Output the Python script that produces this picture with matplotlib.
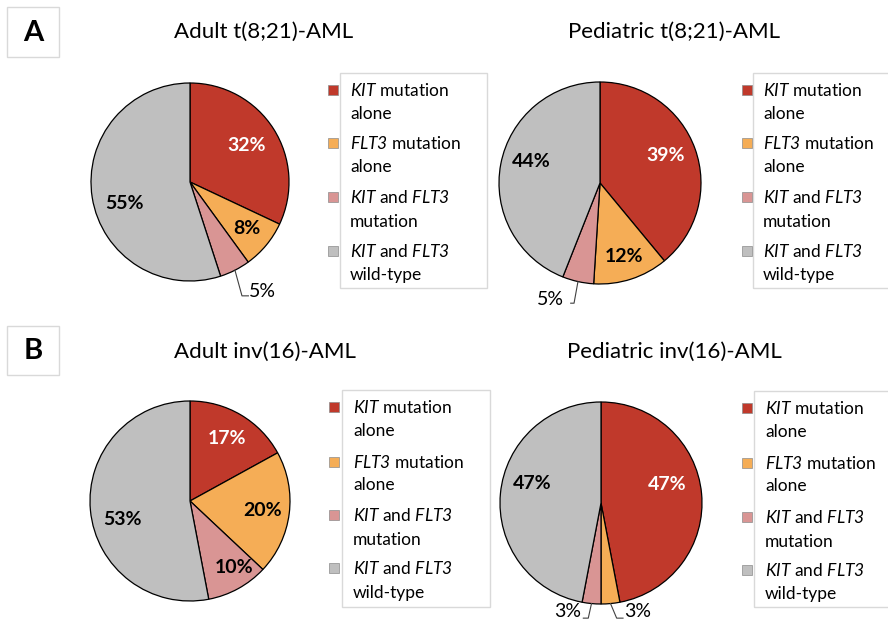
import matplotlib
matplotlib.use('Agg')
import numpy as np
import matplotlib.pyplot as plt
from matplotlib.patches import Rectangle

plt.rcParams['font.family'] = 'Lato'
plt.rcParams['mathtext.fontset'] = 'custom'
# italic for the gene names, digits included
plt.rcParams['mathtext.rm'] = 'Lato:italic'
plt.rcParams['mathtext.it'] = 'Lato:italic'

# data
titles = ["Adult t(8;21)-AML", "Pediatric t(8;21)-AML",
          "Adult inv(16)-AML", "Pediatric inv(16)-AML"]
adult_t821 = [32, 8, 5, 55]
pediatric_t821 = [39, 12, 5, 44]
adult_inv16 = [17, 20, 10, 53]
pediatric_inv16 = [47, 3, 3, 47]
legend_lines = [
    (r"$\mathit{KIT}$ mutation", "alone"),
    (r"$\mathit{FLT3}$ mutation", "alone"),
    (r"$\mathit{KIT}$ and $\mathit{FLT3}$", "mutation"),
    (r"$\mathit{KIT}$ and $\mathit{FLT3}$", "wild-type"),
]
colors = ['#C0392B', '#F5AD56', '#D99594', '#BFBFBF']
text_colors = ['white', 'black', 'black', 'black']

W, H = 888, 623
fig = plt.figure(figsize=(W / 100, H / 100), dpi=100)


def fx(x):
    return x / W


def fy(y):
    return 1 - y / H


def box(x0, y0, x1, y1, ec='#D9D9D9'):
    fig.patches.append(Rectangle((fx(x0), fy(y1)), fx(x1 - x0), (y1 - y0) / H,
                                 transform=fig.transFigure, fill=False,
                                 edgecolor=ec, linewidth=1))


def draw_pie(cx, cy, r, values, title, title_x, title_y, lbl_r, lbl_shift, outside):
    ax = fig.add_axes([fx(cx - r), fy(cy + r), 2 * r / W, 2 * r / H])
    wedges, _ = ax.pie(values, colors=colors, startangle=90, counterclock=False,
                       wedgeprops=dict(edgecolor='black', linewidth=0.9))
    ax.set_xlim(-1, 1)
    ax.set_ylim(-1, 1)
    ax.axis('off')
    for i, (w, v) in enumerate(zip(wedges, values)):
        mid = np.deg2rad((w.theta1 + w.theta2) / 2)
        if i in outside:
            (bx, by), (ex, ey), (tx, ty), ha = outside[i]
            ax.plot([np.cos(mid), bx, ex], [np.sin(mid), by, ey], color='#404040',
                    lw=0.8, clip_on=False)
            ax.text(tx, ty, f"{v}%", ha=ha, va='center', fontsize=14,
                    clip_on=False)
        else:
            a = mid + np.deg2rad(lbl_shift[i])
            ax.text(lbl_r[i] * np.cos(a), lbl_r[i] * np.sin(a), f"{v}%",
                    ha='center', va='center', fontsize=14, fontweight='bold',
                    color=text_colors[i])
    fig.text(fx(title_x), fy(title_y), title, ha='center', va='center',
             fontsize=16)


def draw_legend(box_x0, box_x1, box_y0, box_y1, sq_x, txt_x, line_ys):
    box(box_x0, box_y0, box_x1, box_y1)
    for (l1, l2), c, (y1, y2) in zip(legend_lines, colors, line_ys):
        fig.patches.append(Rectangle((fx(sq_x), fy(y1 + 5)), 10 / W, 10 / H,
                                     transform=fig.transFigure, facecolor=c,
                                     edgecolor='#8C8C8C', linewidth=0.5))
        fig.text(fx(txt_x), fy(y1 + 6), l1, ha='left', va='baseline', fontsize=12.5)
        fig.text(fx(txt_x), fy(y2 + 6), l2, ha='left', va='baseline', fontsize=12.5)


# panel labels
box(7, 7, 59, 57)
fig.text(fx(33), fy(33), "A", ha='center', va='center', fontsize=21, fontweight='bold')
box(7, 326, 59, 375)
fig.text(fx(33), fy(351), "B", ha='center', va='center', fontsize=21, fontweight='bold')

# pies
draw_pie(190, 182, 99, adult_t821, titles[0], 264, 32,
         [0.68, 0.74, 0.7, 0.70], [0, 0, 0, 9],
         {2: ((0.525, -1.15), (0.59, -1.15), (0.6, -1.11), 'left')})
draw_pie(600, 183, 101, pediatric_t821, titles[1], 674, 32,
         [0.70, 0.77, 0.7, 0.71], [3, 0, 0, -7],
         {2: ((-0.257, -1.19), (-0.29, -1.19), (-0.36, -1.15), 'right')})
draw_pie(190, 501, 100, adult_inv16, titles[2], 265, 352,
         [0.73, 0.73, 0.80, 0.70], [0, 0, 5, 10],
         {})
draw_pie(601, 503, 101, pediatric_inv16, titles[3], 674, 352,
         [0.68, 0.7, 0.7, 0.71], [10, 0, 0, -10],
         {2: ((-0.126, -1.14), (-0.175, -1.14), (-0.2, -1.07), 'right'),
          1: ((0.155, -1.14), (0.218, -1.14), (0.23, -1.07), 'left')})

# legends
draw_legend(340, 487, 73, 288, 328, 350,
            [(90, 113), (143, 166), (197, 221), (251, 274)])
draw_legend(753, 895, 73, 288, 742, 763,
            [(90, 113), (143, 166), (197, 221), (251, 274)])
draw_legend(342, 490, 390, 607, 329, 353,
            [(407, 430), (462, 484), (515, 539), (568, 592)])
draw_legend(754, 895, 391, 607, 742, 765,
            [(408, 431), (463, 485), (517, 541), (570, 593)])

fig.savefig('out.png', dpi=100)
